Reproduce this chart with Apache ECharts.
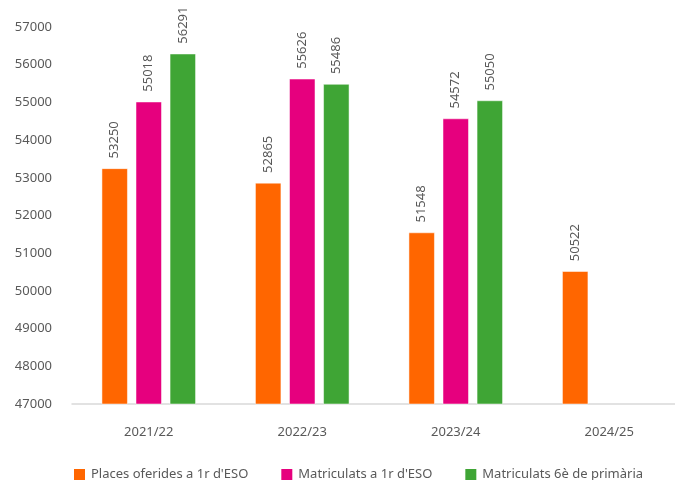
<!DOCTYPE html>
<html>
<head>
<meta charset="utf-8">
<script src="https://cdn.jsdelivr.net/npm/echarts@6/dist/echarts.min.js"></script>
<style>
html, body { margin: 0; padding: 0; background: #fff; }
#chart { width: 675px; height: 480px; }
</style>
</head>
<body>
<div id="chart"></div>
<script>
var years = ['2021/22', '2022/23', '2023/24', '2024/25'];
var placesOferides = [53250, 52865, 51548, 50522];
var matriculatsEso = [55018, 55626, 54572, null];
var matriculatsPrimaria = [56291, 55486, 55050, null];
var colors = ['#FF6600', '#E6007E', '#3FA535'];

var myChart = echarts.init(document.getElementById('chart'));

var labelStyle = {
    show: true,
    position: 'top',
    rotate: 90,
    align: 'left',
    verticalAlign: 'middle',
    distance: 10,
    color: '#595959',
    fontSize: 13,
    fontFamily: 'Noto Sans'
};

function bar(name, data) {
    return {
        name: name,
        type: 'bar',
        data: data,
        barWidth: 26,
        barGap: '31%',
        itemStyle: { borderColor: '#fff', borderWidth: 0.5 },
        label: labelStyle
    };
}

myChart.setOption({
    color: colors,
    textStyle: { fontFamily: 'Noto Sans' },
    grid: { top: 27, left: 72, right: -11, bottom: 76, outerBoundsMode: 'none' },
    legend: {
        top: 462,
        left: 67,
        width: 620,
        itemWidth: 13,
        itemHeight: 13,
        itemGap: 31,
        icon: 'rect',
        textStyle: { color: '#595959', fontSize: 13 },
        data: ['Places oferides a 1r d\'ESO', 'Matriculats a 1r d\'ESO', 'Matriculats 6è de primària']
    },
    xAxis: {
        type: 'category',
        data: years,
        axisTick: { show: false },
        axisLine: { lineStyle: { color: '#D9D9D9', width: 1.5 } },
        axisLabel: { color: '#595959', fontSize: 13, margin: 22 }
    },
    yAxis: {
        type: 'value',
        min: 47000,
        max: 57000,
        interval: 1000,
        splitLine: { show: false },
        axisLine: { show: false },
        axisLabel: {
            color: '#595959',
            fontSize: 13,
            margin: 20,
            formatter: function (v) { return String(v); }
        }
    },
    series: [
        bar('Places oferides a 1r d\'ESO', placesOferides),
        bar('Matriculats a 1r d\'ESO', matriculatsEso),
        bar('Matriculats 6è de primària', matriculatsPrimaria)
    ]
});
</script>
</body>
</html>
